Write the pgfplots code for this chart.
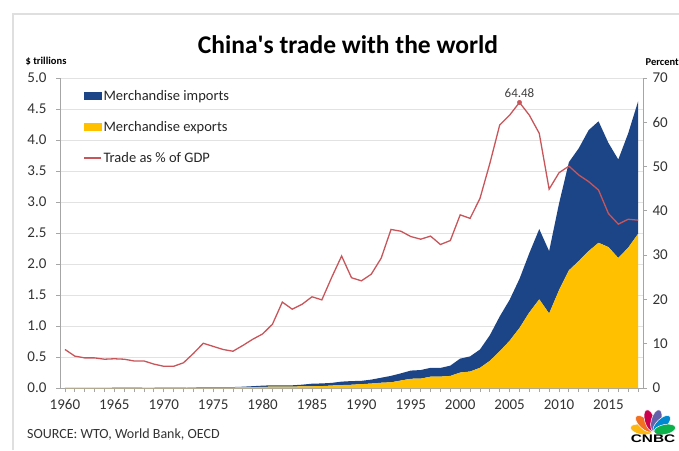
\documentclass[border=0pt]{standalone}
\usepackage{fontspec}
\setmainfont{Carlito}
\newfontfamily\logofont{Liberation Sans}
\usepackage{pgfplots}
\pgfplotsset{compat=1.18}
\usepackage{pgfplotstable}
\definecolor{impblue}{HTML}{1C4587}
\definecolor{expyellow}{HTML}{FFC000}
\definecolor{gdpred}{HTML}{C8555A}
\definecolor{axgray}{HTML}{A6A6A6}
\definecolor{gridgray}{HTML}{E2E2E2}
\definecolor{cnbcY}{HTML}{FCB711}
\definecolor{cnbcO}{HTML}{F37021}
\definecolor{cnbcR}{HTML}{CC004C}
\definecolor{cnbcP}{HTML}{6460AA}
\definecolor{cnbcB}{HTML}{0089D0}
\definecolor{cnbcG}{HTML}{0DB14B}

\pgfplotstableread{
year exp imp gdp
1960 0.00186 0.00195 8.7
1961 0.00149 0.00145 7.2
1962 0.00149 0.00117 6.8
1963 0.00165 0.00127 6.8
1964 0.00192 0.00155 6.5
1965 0.00223 0.00202 6.6
1966 0.00237 0.00225 6.5
1967 0.00214 0.00202 6.1
1968 0.00210 0.00195 6.1
1969 0.00220 0.00183 5.4
1970 0.00231 0.00226 4.9
1971 0.00264 0.00220 4.9
1972 0.00344 0.00286 5.7
1973 0.00582 0.00516 7.8
1974 0.00711 0.00760 10.1
1975 0.00769 0.00749 9.4
1976 0.00686 0.00658 8.7
1977 0.00759 0.00721 8.3
1978 0.00996 0.01089 9.6
1979 0.01366 0.01567 11.0
1980 0.0181 0.0200 12.2
1981 0.0220 0.0220 14.4
1982 0.0223 0.0193 19.4
1983 0.0222 0.0214 17.8
1984 0.0261 0.0274 18.9
1985 0.0274 0.0423 20.6
1986 0.0309 0.0429 19.9
1987 0.0394 0.0432 25.0
1988 0.0475 0.0553 29.8
1989 0.0525 0.0591 24.9
1990 0.0621 0.0533 24.2
1991 0.0718 0.0638 25.7
1992 0.0849 0.0806 29.3
1993 0.0917 0.1040 35.8
1994 0.1210 0.1156 35.4
1995 0.1488 0.1321 34.2
1996 0.1511 0.1388 33.6
1997 0.1828 0.1424 34.3
1998 0.1837 0.1402 32.4
1999 0.1949 0.1657 33.3
2000 0.2492 0.2251 39.1
2001 0.2661 0.2436 38.3
2002 0.3256 0.2952 42.8
2003 0.4382 0.4128 50.7
2004 0.5933 0.5612 59.4
2005 0.7620 0.6600 61.6
2006 0.9689 0.7915 64.48
2007 1.2205 0.9561 61.6
2008 1.4307 1.1326 57.5
2009 1.2016 1.0059 44.9
2010 1.5778 1.3962 48.6
2011 1.8984 1.7435 50.1
2012 2.0487 1.8184 48.1
2013 2.2090 1.9500 46.6
2014 2.3423 1.9592 44.7
2015 2.2735 1.6796 39.4
2016 2.0976 1.5879 37.0
2017 2.2633 1.8438 38.1
2018 2.4867 2.1349 37.9
}\data

\pgfplotsset{
  common/.style={
    at={(60pt,62pt)}, anchor=south west,
    scale only axis, width=583pt, height=310pt,
    xmin=1959.5, xmax=2018.5,
    /pgf/number format/assume math mode=true,
    tick label style={font=\fontsize{15}{17}\selectfont, text=black!80},
    tick align=outside, major tick length=4pt, minor tick length=4pt,
    tick style={draw=axgray, line width=0.8pt},
    axis line style={-, draw=axgray, line width=0.8pt},
  }
}

\begin{document}
\begin{tikzpicture}
% frame
\draw[gray!25, line width=1.5pt] (13pt,0pt) -- (13pt,436pt) -- (679pt,436pt);

\begin{axis}[common,
  ymin=0, ymax=5,
  axis lines*=left,
  xtick={1960,1965,...,2015},
  minor xtick={1960,1961,...,2018},
  x tick label style={yshift=-4pt, /pgf/number format/1000 sep={}},
  ytick={0,0.5,1,1.5,2,2.5,3,3.5,4,4.5,5},
  y tick label style={xshift=-6pt, /pgf/number format/.cd, fixed, fixed zerofill, precision=1},
  ymajorgrids, grid style={draw=gridgray, line width=0.8pt},
  stack plots=y,
]
\addplot[draw=none, fill=expyellow] table[x=year, y=exp] {\data} \closedcycle;
\addplot[draw=none, fill=impblue] table[x=year, y=imp] {\data} \closedcycle;
\end{axis}

\begin{axis}[common,
  ymin=0, ymax=70,
  axis y line*=right, axis x line=none,
  ytick={0,10,...,70},
  y tick label style={xshift=2pt},
  legend style={at={(0.0395,0.968)}, anchor=north west, draw=none, fill=none,
    font=\fontsize{14.5}{16}\selectfont, text=black!85, row sep=15.5pt,
    inner sep=0pt, nodes={inner sep=2pt}},
  legend cell align=left,
]
\addlegendimage{legend image code/.code={\fill[impblue] (0pt,-3.5pt) rectangle (17pt,3.5pt);}}
\addlegendentry{Merchandise imports}
\addlegendimage{legend image code/.code={\fill[expyellow] (0pt,-3.5pt) rectangle (17pt,3.5pt);}}
\addlegendentry{Merchandise exports}
\addplot[gdpred, line width=1.3pt, mark=none,
  legend image code/.code={\draw[gdpred, line width=1.3pt] (0pt,0pt) -- (17pt,0pt);}]
  table[x=year, y=gdp] {\data};
\addlegendentry{Trade as \% of GDP}
\addplot[only marks, mark=*, mark size=2.2pt, gdpred,
  nodes near coords, point meta=explicit symbolic,
  nodes near coords style={font=\fontsize{13}{15}\selectfont, text=black!75, anchor=south, yshift=1pt}]
  coordinates {(2006,64.48) [64.48]};
\end{axis}

% texts
\node[font=\bfseries\fontsize{25.5}{30}\selectfont] at (348pt,405pt) {China\textquotesingle s trade with the world};
\node[font=\bfseries\fontsize{10.5}{12}\selectfont] at (46pt,389pt) {\$ trillions};
\node[font=\bfseries\fontsize{10.5}{12}\selectfont, anchor=east, inner sep=0pt] at (679pt,388pt) {Percent};
\node[font=\fontsize{14}{16}\selectfont, text=black!80, anchor=west, inner sep=0pt] at (27pt,15pt) {SOURCE: WTO, World Bank, OECD};

% logo
\begin{scope}[shift={(653pt,18pt)}]
  \foreach \ang/\col in {168/cnbcY,137/cnbcO,106/cnbcR,74/cnbcP,43/cnbcB,12/cnbcG}
    \fill[\col, draw=white, line width=0.5pt, rotate=\ang] (12pt,0pt) ellipse (11pt and 5pt);
\end{scope}
\node[font=\logofont\bfseries\fontsize{11}{12}\selectfont, inner sep=0pt] at (653pt,11pt) {\scalebox{1.4}[1]{CNBC}};

\pgfresetboundingbox
\path[use as bounding box] (0pt,0pt) rectangle (679pt,450pt);
\end{tikzpicture}
\end{document}
